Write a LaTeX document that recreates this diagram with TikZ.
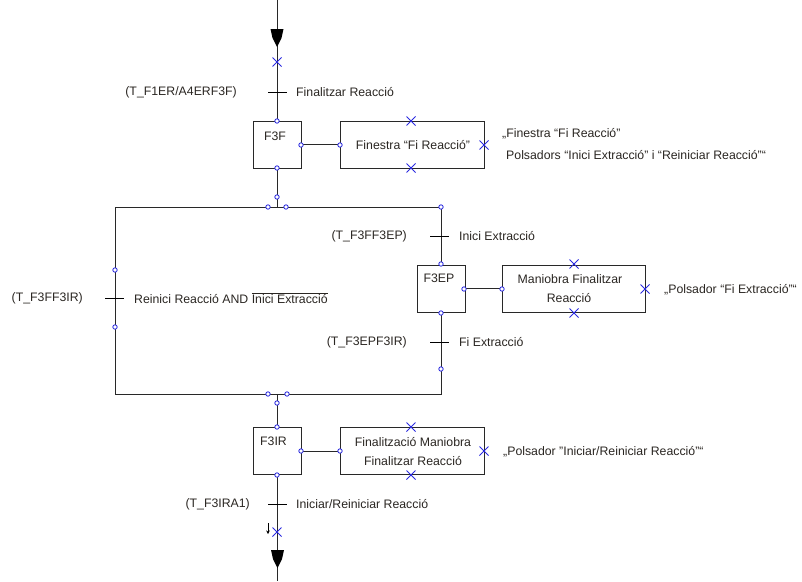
\documentclass[tikz,border=0pt]{standalone}
\usepackage{fontspec}
\setmainfont{Liberation Sans}
\usetikzlibrary{arrows.meta}
\definecolor{ln}{HTML}{282828}
\definecolor{txt}{HTML}{2A2622}
\definecolor{pt}{HTML}{2A2AE0}
\begin{document}
\begin{tikzpicture}[x=1pt,y=-1pt,
  every node/.style={font=\fontsize{12.3}{14}\selectfont, text=txt, inner sep=0pt},
  wire/.style={draw=ln, line width=1pt},
  stepbox/.style={draw=ln, line width=1pt, minimum width=48pt, minimum height=47pt},
  actbox/.style={draw=ln, line width=1pt, minimum width=144pt, minimum height=47pt, align=center},
  port/.style={circle, draw=pt, line width=0.8pt, fill=white, minimum size=4.4pt, inner sep=0pt},
  xmark/.style={draw=pt, line width=0.8pt},
  bar/.style={draw=black, line width=0.9pt},
  tip/.style={fill=black}
]
\useasboundingbox (0,0) rectangle (802,581);

% ---------- coordinates ----------
\coordinate (top) at (277,0);
\coordinate (bot) at (277,581);
\coordinate (TL) at (115,207);
\coordinate (TR) at (441,207);
\coordinate (BL) at (115,394);
\coordinate (BR) at (441,394);
\coordinate (TM) at (277,207);
\coordinate (BM) at (277,394);

% ---------- steps ----------
\node[stepbox] (F3F)  at (277,144.5) {};
\node[stepbox] (F3EP) at (441,288.5) {};
\node[stepbox] (F3IR) at (277,451) {};
\node (F3Ft)  at (275,136) {F3F};
\node (F3EPt) at (439,278) {F3EP};
\node (F3IRt) at (273.5,441) {F3IR};

% ---------- actions ----------
\node[actbox] (A1) at (412,144.5) {};
\node (A1t) at (413,145) {Finestra “Fi Reacció”};
\node[actbox, minimum width=143pt] (A2) at (573.5,288.5) {};
\node (A2a) at (570,279) {Maniobra Finalitzar};
\node (A2b) at (569,298) {Reacció};
\node[actbox] (A3) at (412,451) {};
\node (A3a) at (413,442) {Finalització Maniobra};
\node (A3b) at (413,461) {Finalitzar Reacció};

% ---------- main wires ----------
\draw[wire] (top) -- (F3F.north);
\draw[wire] (F3F.south) -- (TM);
\draw[wire] (TL) -- (TR) -- (F3EP.north);
\draw[wire] (TL) -- (BL) -- (BR) -- (F3EP.south);
\draw[wire] (BM) -- (F3IR.north);
\draw[wire] (F3IR.south) -- (bot);
\draw[wire] (F3F.east) -- (A1.west);
\draw[wire] (F3EP.east) -- (A2.west);
\draw[wire] (F3IR.east) -- (A3.west);

% ---------- arrows ----------
\fill[tip] (270.5,29) -- (283.5,29) -- (281.5,38) -- (277,47) -- (272.5,38) -- cycle;
\fill[tip] (271,550) -- (284,550) -- (282,559) -- (277.5,568) -- (273,559) -- cycle;
\coordinate (sa1) at (268,523);
\coordinate (sa2) at (268,534);
\draw[line width=0.8pt, -{Stealth[length=3.5pt,width=3.5pt]}] (sa1) -- (sa2);

% ---------- transitions ----------
\draw[bar] (268,92) -- (287,92);
\node[anchor=east] (t1l) at (237,92) {(T\_F1ER/A4ERF3F)};
\node[anchor=west] (t1r) at (296,92) {Finalitzar Reacció};

\draw[bar] (430,236) -- (449,236);
\node[anchor=east] (t2l) at (407,236) {(T\_F3FF3EP)};
\node[anchor=west] (t2r) at (459,236) {Inici Extracció};

\draw[bar] (430,342) -- (449,342);
\node[anchor=east] (t3l) at (407,342) {(T\_F3EPF3IR)};
\node[anchor=west] (t3r) at (459,342) {Fi Extracció};

\draw[bar] (105,298) -- (124,298);
\node[anchor=east] (t4l) at (83,298) {(T\_F3FF3IR)};
\node[anchor=west] (t4r) at (134,298) {Reinici Reacció AND $\overline{\mbox{Inici Extracció}}$};

\draw[bar] (268,504) -- (287,504);
\node[anchor=east] (t5l) at (250,504) {(T\_F3IRA1)};
\node[anchor=west] (t5r) at (296,504) {Iniciar/Reiniciar Reacció};

% ---------- annotations ----------
\node[anchor=west] (n1a) at (502,134) {„Finestra “Fi Reacció”};
\node[anchor=west] (n1b) at (506,155) {Polsadors “Inici Extracció” i “Reiniciar Reacció”“};
\node[anchor=west] (n2) at (664,290) {„Polsador “Fi Extracció”“};
\node[anchor=west] (n3) at (503,452) {„Polsador "Iniciar/Reiniciar Reacció"“};

% ---------- crosses ----------
\foreach \p in {(277,62),(411,121),(411,168),(484,145),(574,264),(574,313),(645,289),(411,427),(411,475),(484,451),(277,532)}{
  \draw[xmark] \p ++(-4.5,-4.5) -- ++(9,9);
  \draw[xmark] \p ++(-4.5,4.5) -- ++(9,-9);
}

% ---------- ports ----------
\foreach \p in {(277,121),(301,145),(277,168),(340,145),(277,197),(268,207),(286,207),
  (441,207),(441,264),(464,289),(441,313),(502,289),(441,369),(115,270),(115,327),
  (268,394),(287,394),(277,403),(277,427),(301,451),(277,475),(340,451)}{
  \node[port] at \p {};
}
\end{tikzpicture}
\end{document}
